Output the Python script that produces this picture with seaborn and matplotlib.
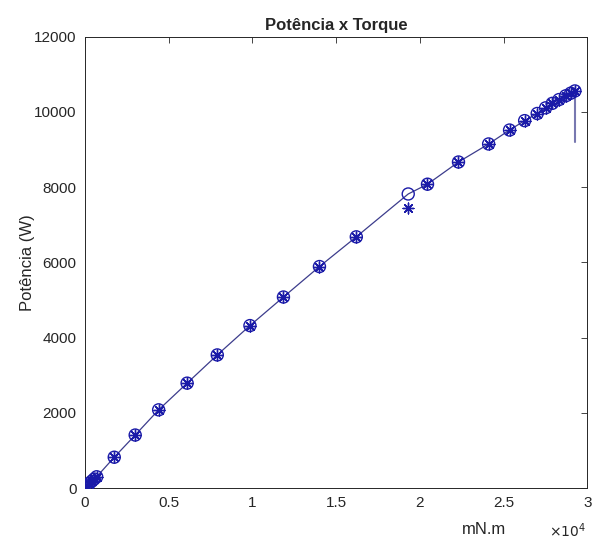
import numpy as np
import pandas as pd
import matplotlib
matplotlib.use("Agg")
import matplotlib.pyplot as plt
import seaborn as sns

# Torque (mN.m) and power (W)
torque = [100, 250, 400, 550, 700, 1750, 3000, 4400, 6100, 7900, 9850, 11850,
          14000, 16200, 19300, 20450, 22300, 24100, 25350, 26250, 27000,
          27500, 27900, 28300, 28700, 29000, 29250]
power_circle = [60, 120, 180, 240, 300, 820, 1410, 2080, 2790, 3540, 4320, 5080,
                5890, 6680, 7820, 8080, 8670, 9150, 9520, 9770, 9960,
                10110, 10230, 10330, 10430, 10500, 10560]
# asterisk measurements (differs from circle at 1.93e4)
power_star = [60, 120, 180, 240, 300, 820, 1410, 2080, 2790, 3540, 4320, 5080,
              5890, 6680, 7450, 8080, 8670, 9150, 9520, 9770, 9960,
              10110, 10230, 10330, 10430, 10500, 10560]
# final vertical segment
end_x = [29250, 29250]
end_y = [10560, 9200]

sns.set_style("white")
plt.rcParams['font.family'] = ['Liberation Sans', 'DejaVu Sans']

fig = plt.figure(figsize=(5.94, 5.49), dpi=100)
ax = fig.add_axes([0.143, 0.111, 0.846, 0.822])

df = pd.DataFrame({"x": torque, "yc": power_circle, "ys": power_star})
blue = "#1a1aa8"
sns.lineplot(data=df, x="x", y="yc", ax=ax, color="#3c3c8c", lw=0.9,
             sort=False, estimator=None)
sns.lineplot(x=end_x, y=end_y, ax=ax, color="#7878b0", lw=1.5,
             sort=False, estimator=None)
ax.scatter(df["x"], df["yc"], s=75, facecolors="none", edgecolors=blue, linewidths=1.0, zorder=3)
ax.scatter(df["x"], df["ys"], s=60, marker=(8, 2, 0), color=blue, linewidths=1.0, zorder=3)

ax.set_xlim(0, 30000)
ax.set_ylim(0, 12000)
ax.set_xticks([0, 5000, 10000, 15000, 20000, 25000, 30000])
ax.set_xticklabels(["0", "0.5", "1", "1.5", "2", "2.5", "3"])
ax.set_yticks(range(0, 12001, 2000))
ax.set_yticklabels([str(v) for v in range(0, 12001, 2000)])
ax.tick_params(direction="in", length=4, width=0.6, top=True, right=True,
               labelsize=11, colors="#262626", pad=6)
for s in ax.spines.values():
    s.set_color("#262626")
    s.set_linewidth(0.7)

ax.set_title("Potência x Torque", fontsize=12, fontweight="bold", pad=5)
ax.set_ylabel("Potência (W)", fontsize=12, color="#262626")
ax.yaxis.set_label_coords(-0.1, 0.5)
ax.set_xlabel("mN.m", fontsize=12, color="#262626")
ax.xaxis.set_label_coords(0.795, -0.075)
fig.text(0.955, 0.022, r"$\times10^{4}$", fontsize=10, color="#262626", ha="center")

fig.savefig("out.png", dpi=100, facecolor="white")
